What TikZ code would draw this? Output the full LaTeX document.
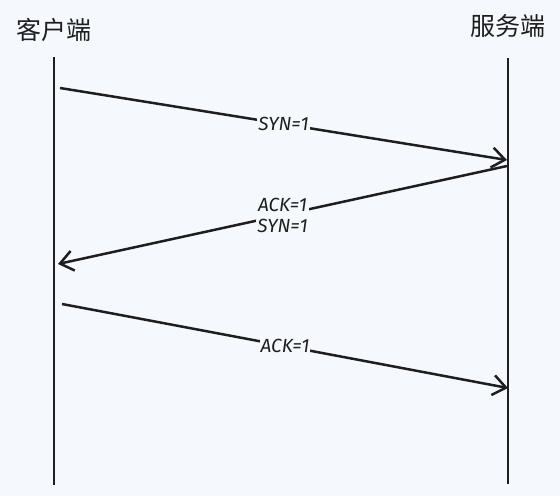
\documentclass[tikz,border=0pt]{standalone}
\usepackage{fontspec}
\newfontfamily\cjk{Noto Sans CJK SC}
\newfontfamily\lbl{Fira Sans}
\usetikzlibrary{arrows.meta}
\definecolor{bg}{HTML}{F5F9FD}
\definecolor{ink}{HTML}{1E1E1E}
\begin{document}
\begin{tikzpicture}[x=1pt,y=-1pt,
  life/.style={draw=ink,line width=2.8pt},
  msg/.style={draw=ink,line width=2.5pt,-{Straight Barb[length=13pt,width=20pt,line width=2.5pt]}},
  title/.style={font=\cjk\fontsize{25}{28}\selectfont,text=ink},
  lab/.style={font=\lbl\itshape\fontsize{19}{21}\selectfont,text=ink,fill=bg,inner sep=1pt,align=center}]
\fill[bg] (0,0) rectangle (560,496);
\useasboundingbox (0,0) rectangle (560,496);
\node[title] (client) at (54,30) {客户端};
\node[title] (server) at (508,26) {服务端};
\coordinate (ct) at (54,57);
\coordinate (cb) at (54,485);
\coordinate (st) at (508,58);
\coordinate (sb) at (508,484);
\draw[life] (ct) -- (cb);
\draw[life] (st) -- (sb);
\coordinate (a1) at (60,88);
\coordinate (b1) at (507,160);
\coordinate (a2) at (507,166);
\coordinate (b2) at (58,264);
\coordinate (a3) at (62,304);
\coordinate (b3) at (508,388);
\draw[msg] (a1) -- node[lab] (l1) {SYN=1} (b1);
\draw[msg] (a2) -- node[lab] (l2) {ACK=1\\SYN=1} (b2);
\draw[msg] (a3) -- node[lab] (l3) {ACK=1} (b3);
\end{tikzpicture}
\end{document}
